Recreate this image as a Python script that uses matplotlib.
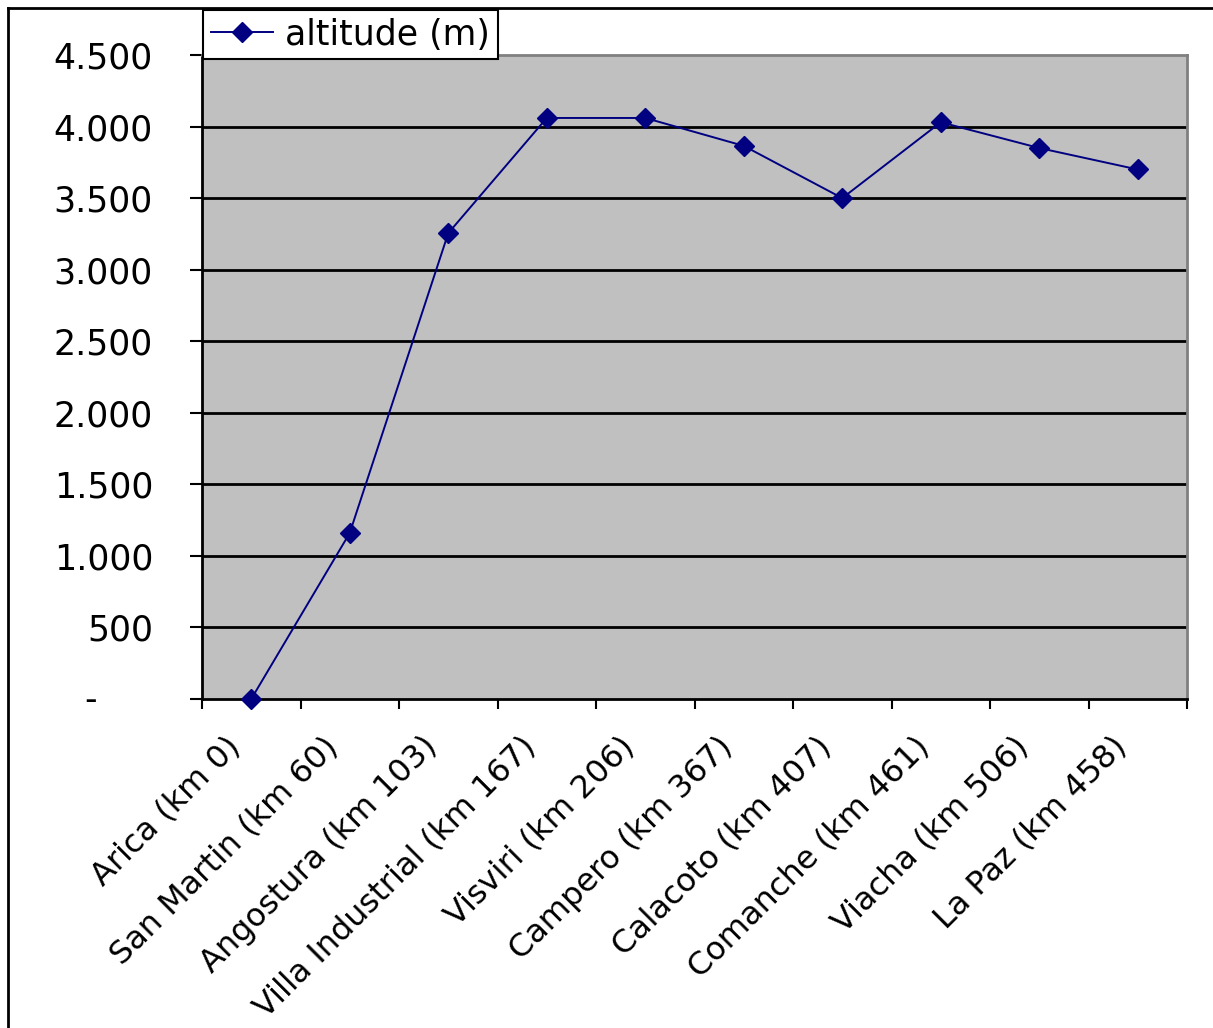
import matplotlib
matplotlib.use("Agg")
import matplotlib.pyplot as plt
from matplotlib.transforms import ScaledTranslation
from matplotlib.lines import Line2D

# Altitude profile along the Arica - La Paz railway
stations = [
    "Arica (km 0)", "San Martin (km 60)", "Angostura (km 103)",
    "Villa Industrial (km 167)", "Visviri (km 206)", "Campero (km 367)",
    "Calacoto (km 407)", "Comanche (km 461)", "Viacha (km 506)",
    "La Paz (km 458)",
]
altitude_m = [0, 1160, 3255, 4060, 4060, 3865, 3500, 4030, 3850, 3700]
y_ticks = [0, 500, 1000, 1500, 2000, 2500, 3000, 3500, 4000, 4500]
y_tick_labels = ["", "500", "1.000", "1.500", "2.000", "2.500",
                 "3.000", "3.500", "4.000", "4.500"]
series_name = "altitude (m)"

W, H = 1213, 1028
PX = 72 / 100  # points per pixel at 100 dpi
fig = plt.figure(figsize=(W / 100, H / 100), dpi=100)
plt.rcParams["font.family"] = ["DejaVu Sans"]
fs_y, fs_x, fs_leg = 25, 23, 25

ax = fig.add_axes([202 / W, 1 - 699 / H, (1187 - 202) / W, (699 - 55) / H])
ax.set_facecolor("#C0C0C0")

x = list(range(1, len(stations) + 1))
line, = ax.plot(x, altitude_m, color="#000080", lw=1.4, marker="D",
                markersize=10, markerfacecolor="#000080",
                markeredgecolor="#000080", zorder=3, clip_on=False)

ax.set_xlim(0.5, len(stations) + 0.5)
ax.set_ylim(0, 4500)

# y axis
ax.set_yticks(y_ticks)
ax.set_yticklabels(y_tick_labels)
ax.tick_params(axis="y", direction="out", length=12 * PX, width=1.5,
               pad=37 * PX, labelsize=fs_y, color="black")
ax.text(91 / W, 1 - 700 / H, "-", transform=fig.transFigure,
        fontsize=fs_y, ha="center", va="center")
for yv in y_ticks[1:-1]:
    ax.axhline(yv, color="black", lw=2, zorder=1)

# x axis: ticks between categories, labels at category centres
ax.set_xticks([i + 0.5 for i in range(0, len(stations) + 1)], minor=True)
ax.set_xticks(x)
ax.set_xticklabels(stations, rotation=45, ha="right", va="center",
                   rotation_mode="anchor")
ax.tick_params(axis="x", which="major", length=0, labelsize=fs_x,
               pad=31)
ax.tick_params(axis="x", which="minor", direction="out", length=10 * PX,
               width=1.5, color="black")
shift = ScaledTranslation(-16 / 100, 0, fig.dpi_scale_trans)
for lbl in ax.get_xticklabels():
    lbl.set_transform(lbl.get_transform() + shift)

for side in ("left", "bottom"):
    ax.spines[side].set_color("black")
    ax.spines[side].set_linewidth(2)
for side in ("top", "right"):
    ax.spines[side].set_color("#808080")
    ax.spines[side].set_linewidth(2)

# legend
leg = fig.legend([line], [series_name], loc="upper left",
                 bbox_to_anchor=(203 / W, 1 - 10 / H),
                 bbox_transform=fig.transFigure, fontsize=fs_leg,
                 frameon=True, fancybox=False, shadow=False,
                 handlelength=1.8, borderpad=0.22, handletextpad=0.35,
                 borderaxespad=0)
leg.get_frame().set_edgecolor("black")
leg.get_frame().set_linewidth(1.5)
leg.get_frame().set_facecolor("white")
leg.get_frame().set_alpha(1)

# chart area border
fig.add_artist(Line2D([8 / W, 8 / W], [0, 1 - 8 / H], color="black", lw=2,
                      transform=fig.transFigure))
fig.add_artist(Line2D([8 / W, 1], [1 - 8 / H, 1 - 8 / H], color="black",
                      lw=2, transform=fig.transFigure))

fig.savefig("out.png", dpi=100)
